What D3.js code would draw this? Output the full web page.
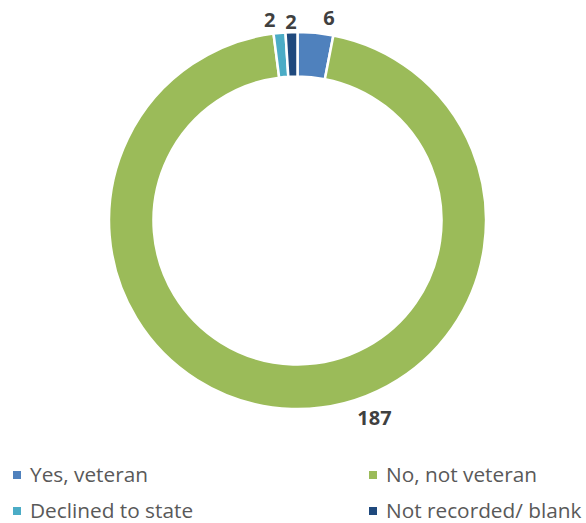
<!DOCTYPE html>
<html>
<head>
<meta charset="utf-8">
<script src="https://cdn.jsdelivr.net/npm/d3@7"></script>
<style>
  html, body { margin: 0; padding: 0; background: #ffffff; }
  svg { display: block; }
</style>
</head>
<body>
<svg id="chart" width="586" height="523"></svg>
<script>
// Veteran status counts
const categories = ["Yes, veteran", "No, not veteran", "Declined to state", "Not recorded/ blank"];
const counts = [6, 187, 2, 2];
const colors = ["#4F81BD", "#9BBB59", "#4BACC6", "#1F497D"];

// Label placement around the ring (degrees clockwise from 12 o'clock, radius in px)
const labelPolar = [
  { angle: 8.8, r: 205 },
  { angle: 158.7, r: 212 },
  { angle: -7.9, r: 203 },
  { angle: -1.9, r: 199 }
];

const svg = d3.select("#chart");
const cx = 297.5, cy = 220.5;
const outerR = 188.5, innerR = 144;

const data = categories.map((c, i) => ({ category: c, value: counts[i], color: colors[i], i }));

const pie = d3.pie().value(d => d.value).sort(null);
const arc = d3.arc().innerRadius(innerR).outerRadius(outerR);

const g = svg.append("g").attr("transform", `translate(${cx},${cy})`);

g.selectAll("path.slice")
  .data(pie(data))
  .join("path")
  .attr("class", "slice")
  .attr("d", arc)
  .attr("fill", d => d.data.color)
  .attr("stroke", "#ffffff")
  .attr("stroke-width", 2.5)
  .attr("stroke-linejoin", "miter");

// Value labels
g.selectAll("text.value")
  .data(data)
  .join("text")
  .attr("class", "value")
  .attr("x", d => labelPolar[d.i].r * Math.sin(labelPolar[d.i].angle * Math.PI / 180))
  .attr("y", d => -labelPolar[d.i].r * Math.cos(labelPolar[d.i].angle * Math.PI / 180))
  .attr("dy", "0.36em")
  .attr("text-anchor", "middle")
  .attr("font-family", "'Open Sans', sans-serif")
  .attr("font-weight", 700)
  .attr("font-size", 20)
  .attr("fill", "#404040")
  .text(d => d.value);

// Legend, two columns by two rows
const legend = svg.append("g").attr("class", "legend");
const colX = [13, 369];
const rowY = [482, 518];
const items = legend.selectAll("g.item")
  .data(data)
  .join("g")
  .attr("class", "item")
  .attr("transform", d => `translate(${colX[d.i % 2]},${rowY[Math.floor(d.i / 2)]})`);

items.append("rect")
  .attr("x", 0)
  .attr("y", -11)
  .attr("width", 8)
  .attr("height", 8)
  .attr("fill", d => d.color);

items.append("text")
  .attr("x", 17)
  .attr("y", 0)
  .attr("font-family", "'Open Sans', sans-serif")
  .attr("font-size", 20.8)
  .attr("fill", "#595959")
  .text(d => d.category);
</script>
</body>
</html>
